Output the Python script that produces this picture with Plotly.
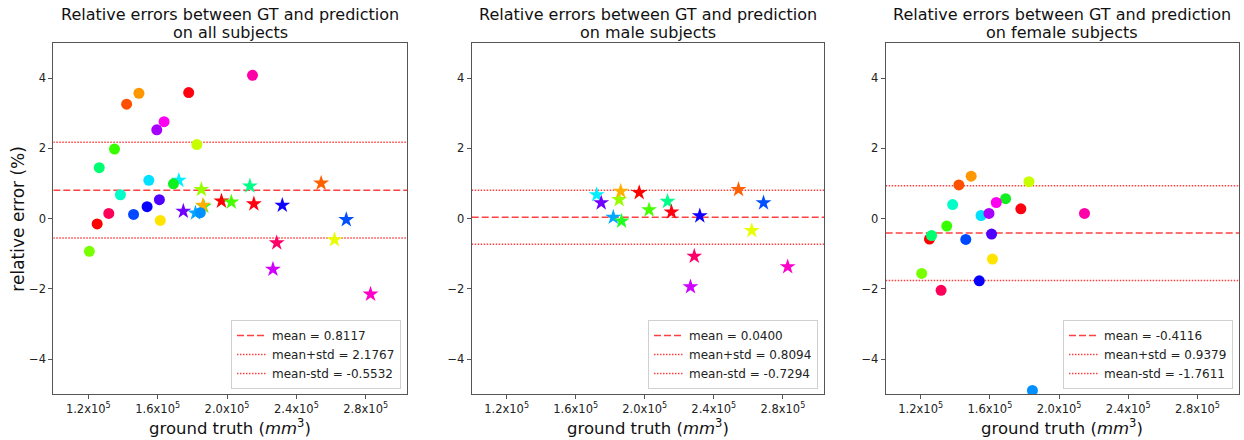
import plotly.graph_objects as go

# ---------------- data ----------------
# female subjects (circles): ground-truth volume, relative error in "all" model, in "female" model
F_GT = [1.251e5, 1.779e5, 1.421e5, 1.492e5, 1.615e5, 1.826e5, 1.206e5, 1.351e5, 1.691e5, 1.263e5,
        1.385e5, 1.549e5, 1.846e5, 1.461e5, 1.539e5, 1.610e5, 1.595e5, 1.637e5, 2.147e5, 1.318e5]
F_ERR_ALL = [-0.15, 3.59, 3.26, 3.57, -0.05, 2.11, -0.93, 1.98, 0.99, 1.45,
             0.68, 1.09, 0.17, 0.12, 0.34, 0.54, 2.53, 2.76, 4.08, 0.15]
F_ERR_SEX = [-0.58, 0.28, 0.96, 1.21, -1.15, 1.05, -1.56, -0.21, 0.57, -0.48,
             0.40, 0.09, -4.89, -0.59, -1.77, -0.44, 0.15, 0.46, 0.15, -2.04]
F_COLORS = ["#ff0000", "#ff0010", "#ff5000", "#ff9800", "#ffe400", "#c8ff00", "#78ff00", "#38ff00",
            "#10f020", "#00ff70", "#00ffc8", "#00e0ff", "#0090ff", "#0048ff", "#0800ff", "#5000ff",
            "#a800ff", "#ff00f0", "#ff00a8", "#ff0058"]

# male subjects (stars)
M_GT = [1.722e5, 1.748e5, 1.852e5, 1.818e5, 1.866e5, 1.861e5, 1.968e5, 2.025e5, 2.132e5, 2.155e5,
        2.319e5, 2.543e5, 2.688e5, 2.620e5, 2.287e5, 2.265e5, 2.828e5]
M_ERR_ALL = [1.09, 0.21, 0.83, 0.16, 0.35, 0.38, 0.50, 0.47, 0.93, 0.42,
             0.38, 1.01, -0.03, -0.60, -0.69, -1.44, -2.15]
M_ERR_SEX = [0.68, 0.45, 0.54, 0.04, -0.07, 0.78, 0.74, 0.25, 0.49, 0.19,
             0.08, 0.83, 0.45, -0.34, -1.07, -1.94, -1.37]
M_COLORS = ["#00f0ff", "#7000ff", "#98ff00", "#00a8ff", "#20ff20", "#ffb000", "#ff0000", "#44ff00",
            "#00ff88", "#ff0010", "#1000ff", "#ff6000", "#0050ff", "#e8ff00", "#ff0068", "#d000ff", "#ff00c8"]

# statistics shown in legends
MEANS = [0.8117, 0.0400, -0.4116]
MEAN_PLUS = [2.1767, 0.8094, 0.9379]
MEAN_MINUS = [-0.5532, -0.7294, -1.7611]

TITLE_LINE1 = ["Relative errors between GT and prediction"] * 3
TITLE_LINE2 = ["on all subjects", "on male subjects", "on female subjects"]
X_LABEL = "ground truth (<i>mm</i><sup>3</sup>)"
Y_LABEL = "relative error (%)"

X_TICKS = [1.2e5, 1.6e5, 2.0e5, 2.4e5, 2.8e5]
X_TICK_TEXT = ["1.2x10<sup>5</sup>", "1.6x10<sup>5</sup>", "2.0x10<sup>5</sup>",
               "2.4x10<sup>5</sup>", "2.8x10<sup>5</sup>"]
Y_TICKS = [-4, -2, 0, 2, 4]
X_RANGE = [0.998e5, 3.04e5]
Y_RANGE = [-5.0, 5.0]

# ---------------- figure ----------------
W, H = 1244, 440
FONT = "DejaVu Sans, Arial, sans-serif"
X_DOMAINS = [[53.3 / W, 407.3 / W], [471.7 / W, 824.3 / W], [885.7 / W, 1239.0 / W]]
Y_DOMAIN = [1 - 394.3 / H, 1 - 43.0 / H]
LEGEND_RIGHT = [401.0 / W, 818.0 / W, 1233.0 / W]

fig = go.Figure()

panels = [
    [(M_GT, M_ERR_ALL, M_COLORS, "star"), (F_GT, F_ERR_ALL, F_COLORS, "circle")],
    [(M_GT, M_ERR_SEX, M_COLORS, "star")],
    [(F_GT, F_ERR_SEX, F_COLORS, "circle")],
]

LINE_RED = "rgba(255,0,0,0.75)"

for i in range(3):
    ax = "" if i == 0 else str(i + 1)
    xa, ya = "x" + ax, "y" + ax
    lg = "legend" + ax
    # statistic lines
    fig.add_trace(go.Scatter(x=X_RANGE, y=[MEANS[i], MEANS[i]], mode="lines",
                             line=dict(color=LINE_RED, width=1.5, dash="7px,3px"),
                             name="mean = %.4f" % MEANS[i], xaxis=xa, yaxis=ya, legend=lg,
                             hoverinfo="skip"))
    fig.add_trace(go.Scatter(x=X_RANGE, y=[MEAN_PLUS[i], MEAN_PLUS[i]], mode="lines",
                             line=dict(color=LINE_RED, width=1.5, dash="1.5px,1.5px"),
                             name="mean+std = %.4f" % MEAN_PLUS[i], xaxis=xa, yaxis=ya, legend=lg,
                             hoverinfo="skip"))
    fig.add_trace(go.Scatter(x=X_RANGE, y=[MEAN_MINUS[i], MEAN_MINUS[i]], mode="lines",
                             line=dict(color=LINE_RED, width=1.5, dash="1.5px,1.5px"),
                             name="mean-std = %.4f" % MEAN_MINUS[i], xaxis=xa, yaxis=ya, legend=lg,
                             hoverinfo="skip"))
    for gx, gy, cols, sym in panels[i]:
        fig.add_trace(go.Scatter(x=gx, y=gy, mode="markers", showlegend=False,
                                 marker=dict(symbol=sym, color=cols, size=11 if sym == "circle" else 12,
                                             line=dict(width=0)),
                                 xaxis=xa, yaxis=ya))

    axis_style = dict(showline=True, mirror=True, linecolor="#555", linewidth=1,
                      ticks="outside", ticklen=4, tickcolor="#555", showgrid=False, zeroline=False,
                      tickfont=dict(family=FONT, size=11.5, color="#222"))
    fig.layout["xaxis" + ax] = dict(domain=X_DOMAINS[i], range=X_RANGE, anchor=ya,
                                    tickvals=X_TICKS, ticktext=X_TICK_TEXT, **axis_style)
    fig.layout["yaxis" + ax] = dict(domain=Y_DOMAIN, range=Y_RANGE, anchor=xa, tickvals=Y_TICKS,
                                    **axis_style)

    fig.layout[lg] = dict(x=LEGEND_RIGHT[i], xanchor="right", y=1 - 389.0 / H, yanchor="bottom",
                          xref="paper", yref="paper",
                          bgcolor="rgba(255,255,255,0.85)", bordercolor="#d0d0d0", borderwidth=1,
                          font=dict(family=FONT, size=12, color="#222"),
                          tracegroupgap=0, itemwidth=30)

    fig.add_annotation(text=TITLE_LINE1[i], xref=xa + " domain", yref="paper", x=0.5, y=1 - 14.5 / H,
                       xanchor="center", yanchor="middle", showarrow=False,
                       font=dict(family=FONT, size=16, color="#111"))
    fig.add_annotation(text=TITLE_LINE2[i], xref=xa + " domain", yref="paper", x=0.5, y=1 - 33.0 / H,
                       xanchor="center", yanchor="middle", showarrow=False,
                       font=dict(family=FONT, size=16, color="#111"))
    fig.add_annotation(text=X_LABEL, xref=xa + " domain", yref="paper", x=0.5, y=1 - 427.0 / H,
                       xanchor="center", yanchor="middle", showarrow=False,
                       font=dict(family=FONT, size=16.5, color="#111"))

fig.add_annotation(text=Y_LABEL, xref="paper", yref="y domain", x=18.0 / W, y=0.5, textangle=-90,
                   xanchor="center", yanchor="middle", showarrow=False,
                   font=dict(family=FONT, size=17, color="#111"))

fig.update_layout(width=W, height=H, margin=dict(l=0, r=0, t=0, b=0),
                  paper_bgcolor="white", plot_bgcolor="white", showlegend=True,
                  font=dict(family=FONT))

fig.write_html("out.html")
